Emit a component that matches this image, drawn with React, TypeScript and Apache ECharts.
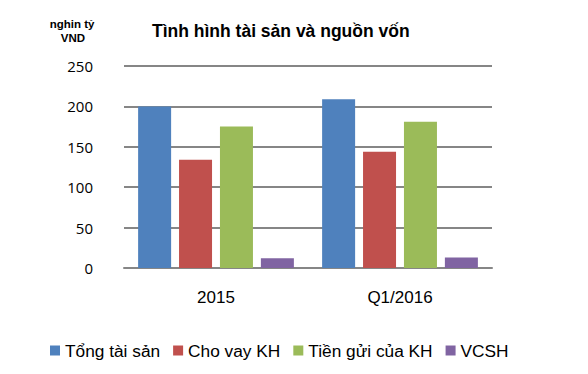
import React, { useEffect, useRef } from "react";
import * as echarts from "echarts";

const categories = ["2015", "Q1/2016"];
const seriesNames = ["Tổng tài sản", "Cho vay KH", "Tiền gửi của KH", "VCSH"];
const tongTaiSan = [200, 209];
const choVayKH = [134, 144];
const tienGuiKH = [175, 181];
const vcsh = [12, 13];
const colors = ["#4F81BD", "#C0504D", "#9BBB59", "#8064A2"];

export default function App() {
  const ref = useRef<HTMLDivElement>(null);
  useEffect(() => {
    if (!ref.current) return;
    const chart = echarts.init(ref.current, null, { renderer: "svg" });
    const data = [tongTaiSan, choVayKH, tienGuiKH, vcsh];
    const unitStyle = {
      fontFamily: "Liberation Sans Narrow, Liberation Sans",
      fontSize: 11.5,
      lineHeight: 12,
      fontWeight: "bold",
      fill: "#000",
      align: "center",
      verticalAlign: "top",
    };
    chart.setOption({
      animation: false,
      backgroundColor: "#ffffff",
      title: {
        text: "Tình hình tài sản và nguồn vốn",
        left: 147,
        top: 17,
        textStyle: { fontFamily: "Liberation Sans", fontWeight: "bold", fontSize: 17.5, color: "#000" },
      },
      graphic: [
        { type: "text", x: 72, y: 18, style: { ...unitStyle, text: "nghin tỷ" } },
        { type: "text", x: 73, y: 32, style: { ...unitStyle, text: "VND" } },
      ],
      legend: {
        data: seriesNames,
        top: 337,
        left: 45,
        itemWidth: 10,
        itemHeight: 10,
        itemGap: 13,
        icon: "rect",
        textStyle: { fontFamily: "Liberation Sans", fontSize: 17.3, color: "#000" },
      },
      grid: { left: 124, right: 96, top: 66, bottom: 106 },
      xAxis: {
        type: "category",
        data: categories,
        axisLine: { lineStyle: { color: "#868686", width: 2 } },
        axisTick: { show: false },
        axisLabel: { fontFamily: "Liberation Sans", fontSize: 17, color: "#000", margin: 21 },
      },
      yAxis: {
        type: "value",
        min: 0,
        max: 250,
        interval: 50,
        axisLine: { show: false },
        axisTick: { show: false },
        splitLine: { lineStyle: { color: "#868686", width: 2 } },
        axisLabel: { fontFamily: "Open Sans", fontSize: 15, color: "#000", margin: 31 },
      },
      series: seriesNames.map((name, i) => ({
        name,
        type: "bar",
        data: data[i],
        barWidth: 33,
        barGap: "24%",
        itemStyle: { color: colors[i] },
      })),
    });
    return () => chart.dispose();
  }, []);
  return (
    <div
      ref={ref}
      style={{ position: "fixed", left: 0, top: 0, width: 588, height: 374 }}
    />
  );
}
